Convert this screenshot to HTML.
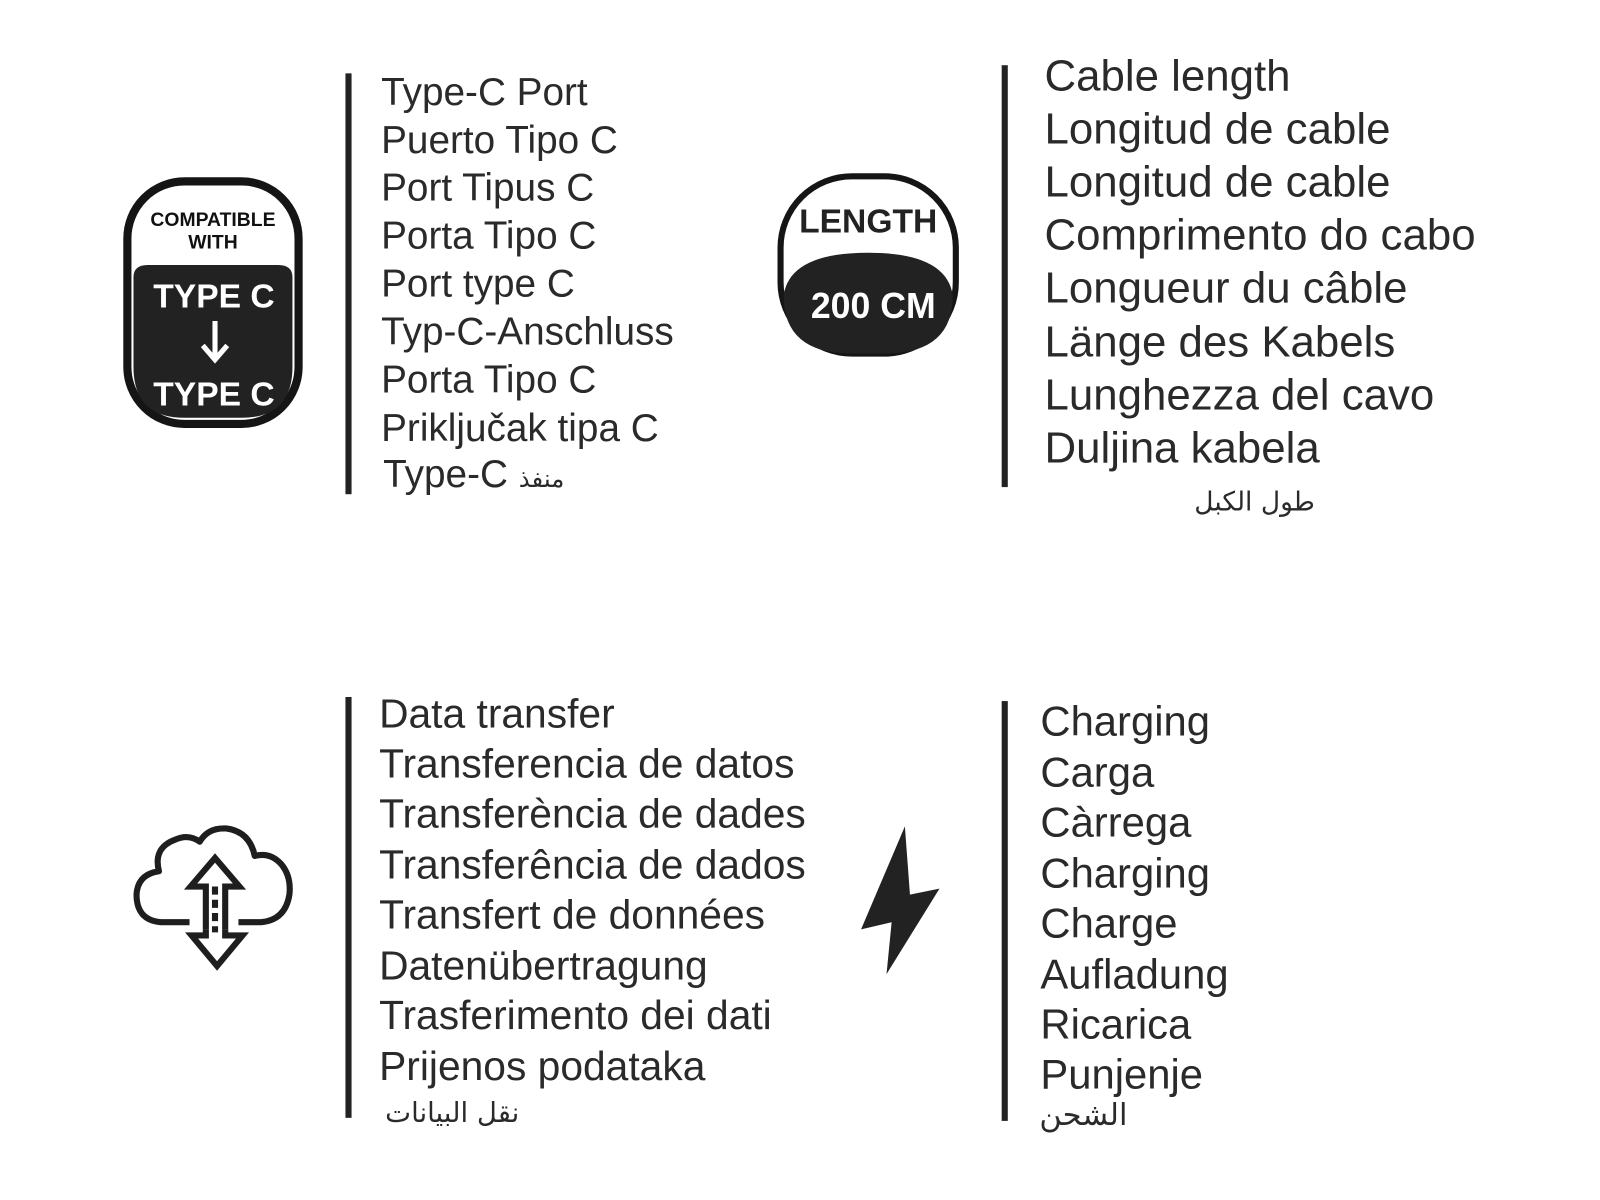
<!DOCTYPE html>
<html><head><meta charset="utf-8">
<style>
html,body{margin:0;padding:0;background:#fff;}
body{width:1600px;height:1200px;position:relative;overflow:hidden;font-family:"Liberation Sans","DejaVu Sans",sans-serif;color:#2a2a2a;}
#w{position:absolute;left:0;top:0;width:1570px;height:1178px;transform:scale(1.019);transform-origin:0 0;}
.t{position:absolute;white-space:nowrap;line-height:1;}
.bar{position:absolute;background:#222;width:6px;}
.a{font-family:"DejaVu Sans",sans-serif;}
</style></head><body><div id="w">

<div class="bar" style="left:339px;top:72px;height:413px"></div>
<div class="bar" style="left:983px;top:64px;height:414px"></div>
<div class="bar" style="left:339px;top:684px;height:413px"></div>
<div class="bar" style="left:983px;top:688px;height:412px"></div>

<svg style="position:absolute;left:0;top:0" width="1570" height="1178">
  <rect x="125" y="178" width="168" height="238" rx="56" ry="56" fill="#fff" stroke="#151515" stroke-width="8"/>
  <path d="M131 272 Q131 260 145 260 L273 260 Q287 260 287 272 L287 360 Q287 410 237 410 L181 410 Q131 410 131 360 Z" fill="#222"/>
  <text x="209" y="222" font-family="Liberation Sans" font-weight="bold" font-size="19" text-anchor="middle" fill="#111">COMPATIBLE</text>
  <text x="209" y="244" font-family="Liberation Sans" font-weight="bold" font-size="19" text-anchor="middle" fill="#111">WITH</text>
  <text x="210" y="302" font-family="Liberation Sans" font-weight="bold" font-size="33" text-anchor="middle" fill="#fff">TYPE C</text>
  <line x1="211" y1="315" x2="211" y2="350" stroke="#fff" stroke-width="5"/>
  <polyline points="199,339 211,353 223,339" fill="none" stroke="#fff" stroke-width="5"/>
  <text x="210" y="398" font-family="Liberation Sans" font-weight="bold" font-size="33" text-anchor="middle" fill="#fff">TYPE C</text>

  <rect x="766" y="173" width="172" height="174" rx="70" ry="70" fill="#fff" stroke="#151515" stroke-width="6"/>
  <path d="M769 290 Q775 248 852 248 Q929 248 935 290 L935 290 Q935 347 868 347 L836 347 Q769 347 769 290 Z" fill="#222"/>
  <text x="852" y="228" font-family="Liberation Sans" font-weight="bold" font-size="33" text-anchor="middle" fill="#222">LENGTH</text>
  <text x="857" y="312" font-family="Liberation Sans" font-weight="bold" font-size="35" text-anchor="middle" fill="#fff">200 CM</text>

  <path d="M186 905 L158 905 Q134 903 134 878 Q135 858 156 855 Q150 832 172 824 Q185 818 196 826 Q204 812 222 813 Q245 816 250 840 Q265 836 276 848 Q286 860 284 878 Q280 903 256 905 L234 905"
        fill="none" stroke="#1e1e1e" stroke-width="6" stroke-linejoin="round"/>
  <path d="M202 912 L202 870 L187 870 L211 842 L235 870 L221 870 L221 912" fill="none" stroke="#1e1e1e" stroke-width="6"/>
  <line x1="211" y1="870" x2="211" y2="915" stroke="#1e1e1e" stroke-width="6" stroke-dasharray="8,5"/>
  <path d="M202 912 L202 918 L188 918 L213 948 L238 918 L221 918 L221 912" fill="none" stroke="#1e1e1e" stroke-width="6"/>

  <path d="M888 811 L845 912 L875 905 L870 956 L922 872 L893 878 Z" fill="#222"/>
</svg>

<div class="t" style="left:374px;top:72px;font-size:38px">Type-C Port</div>
<div class="t" style="left:374px;top:119px;font-size:38px">Puerto Tipo C</div>
<div class="t" style="left:374px;top:166px;font-size:38px">Port Tipus C</div>
<div class="t" style="left:374px;top:213px;font-size:38px">Porta Tipo C</div>
<div class="t" style="left:374px;top:260px;font-size:38px">Port type C</div>
<div class="t" style="left:374px;top:307px;font-size:38px">Typ-C-Anschluss</div>
<div class="t" style="left:374px;top:354px;font-size:38px">Porta Tipo C</div>
<div class="t" style="left:374px;top:402px;font-size:38px">Priključak tipa C</div>
<div class="t" style="left:376px;top:447px;font-size:38px">Type-C <span class="a" style="font-size:24px">منفذ</span></div>

<div class="t" style="left:1025px;top:54px;font-size:43px">Cable length</div>
<div class="t" style="left:1025px;top:106px;font-size:43px">Longitud de cable</div>
<div class="t" style="left:1025px;top:158px;font-size:43px">Longitud de cable</div>
<div class="t" style="left:1025px;top:210px;font-size:43px">Comprimento do cabo</div>
<div class="t" style="left:1025px;top:262px;font-size:43px">Longueur du câble</div>
<div class="t" style="left:1025px;top:315px;font-size:43px">Länge des Kabels</div>
<div class="t" style="left:1025px;top:367px;font-size:43px">Lunghezza del cavo</div>
<div class="t" style="left:1025px;top:419px;font-size:43px">Duljina kabela</div>
<div class="t a" style="left:1172px;top:480px;font-size:26px">طول الكبل</div>

<div class="t" style="left:372px;top:681px;font-size:40px">Data transfer</div>
<div class="t" style="left:372px;top:730px;font-size:40px">Transferencia de datos</div>
<div class="t" style="left:372px;top:779px;font-size:40px">Transferència de dades</div>
<div class="t" style="left:372px;top:829px;font-size:40px">Transferência de dados</div>
<div class="t" style="left:372px;top:878px;font-size:40px">Transfert de données</div>
<div class="t" style="left:372px;top:928px;font-size:40px">Datenübertragung</div>
<div class="t" style="left:372px;top:977px;font-size:40px">Trasferimento dei dati</div>
<div class="t" style="left:372px;top:1027px;font-size:40px">Prijenos podataka</div>
<div class="t a" style="left:378px;top:1079px;font-size:27px">نقل البيانات</div>

<div class="t" style="left:1021px;top:688px;font-size:41px">Charging</div>
<div class="t" style="left:1021px;top:738px;font-size:41px">Carga</div>
<div class="t" style="left:1021px;top:787px;font-size:41px">Càrrega</div>
<div class="t" style="left:1021px;top:837px;font-size:41px">Charging</div>
<div class="t" style="left:1021px;top:886px;font-size:41px">Charge</div>
<div class="t" style="left:1021px;top:936px;font-size:41px">Aufladung</div>
<div class="t" style="left:1021px;top:985px;font-size:41px">Ricarica</div>
<div class="t" style="left:1021px;top:1034px;font-size:41px">Punjenje</div>
<div class="t a" style="left:1020px;top:1080px;font-size:30px">الشحن</div>

</div></body></html>
